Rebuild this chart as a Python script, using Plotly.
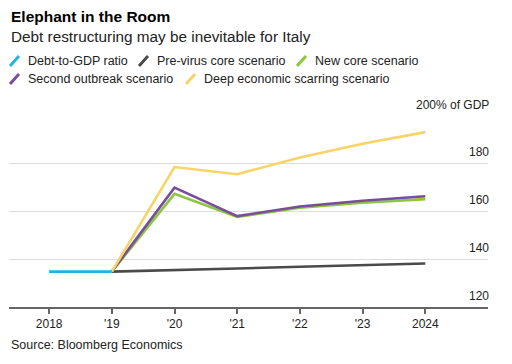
import plotly.graph_objects as go

years = [2018, 2019, 2020, 2021, 2022, 2023, 2024]
x_ticktext = ["2018", "'19", "'20", "'21", "'22", "'23", "2024"]

debt_years = [2018, 2019]
debt_ratio = [134.8, 134.8]

scen_years = [2019, 2020, 2021, 2022, 2023, 2024]
pre_virus = [134.8, 135.6, 136.1, 136.8, 137.6, 138.2]
new_core = [134.8, 167.3, 157.6, 161.5, 163.6, 165.1]
second_outbreak = [134.8, 169.9, 158.0, 162.0, 164.4, 166.3]
deep_scarring = [134.8, 178.5, 175.5, 182.5, 188.2, 193.1]

y_tickvals = [120, 140, 160, 180, 200]
y_ticktext = ["120", "140", "160", "180", "200% of GDP"]

names = ["Debt-to-GDP ratio", "Pre-virus core scenario", "New core scenario",
         "Second outbreak scenario", "Deep economic scarring scenario"]
colors = ["#22b5dc", "#4a4a4a", "#8cc63f", "#7a4c9c", "#f7d465"]

# page body adds an 8px offset; design in window pixels and subtract it
OFF = 8
W, H = 512 - OFF, 364 - OFF
ML, MR, MT, MB = 9 - OFF, 24, 115 - OFF, 57
PW, PH = W - ML - MR, H - MT - MB

def px(x):
    return (x - OFF - ML) / PW

def py(y):
    return (H - MB - (y - OFF)) / PH

fig = go.Figure()
fig.add_trace(go.Scatter(x=scen_years, y=pre_virus, mode="lines", line=dict(color=colors[1], width=2.6), name=names[1]))
fig.add_trace(go.Scatter(x=scen_years, y=new_core, mode="lines", line=dict(color=colors[2], width=2.6), name=names[2]))
fig.add_trace(go.Scatter(x=scen_years, y=second_outbreak, mode="lines", line=dict(color=colors[3], width=2.6), name=names[3]))
fig.add_trace(go.Scatter(x=scen_years, y=deep_scarring, mode="lines", line=dict(color=colors[4], width=2.6), name=names[4]))
fig.add_trace(go.Scatter(x=debt_years, y=debt_ratio, mode="lines", line=dict(color=colors[0], width=2.6), name=names[0]))

font = "Liberation Sans, Arial, sans-serif"
annotations = [
    dict(text="<b>Elephant in the Room</b>", x=px(9), y=py(16), xref="paper", yref="paper",
         xanchor="left", yanchor="middle", showarrow=False, font=dict(size=15.5, color="#000", family=font)),
    dict(text="Debt restructuring may be inevitable for Italy", x=px(9), y=py(36), xref="paper", yref="paper",
         xanchor="left", yanchor="middle", showarrow=False, font=dict(size=15.3, color="#222", family=font)),
    dict(text="Source: Bloomberg Economics", x=px(9), y=py(345), xref="paper", yref="paper",
         xanchor="left", yanchor="middle", showarrow=False, font=dict(size=12.5, color="#222", family=font)),
]
for v, t in zip(y_tickvals, y_ticktext):
    annotations.append(dict(text=t, x=px(491), y=v, xref="paper", yref="y", xanchor="right",
                            yanchor="bottom", yshift=2, showarrow=False,
                            font=dict(size=12, color="#222", family=font)))
shapes = []
legend_items = [(0, 10, 61), (1, 139, 61), (2, 297, 61), (3, 10, 79), (4, 186, 79)]
for idx, lx, ly in legend_items:
    shapes.append(dict(type="line", xref="paper", yref="paper",
                       x0=px(lx), y0=py(ly + 5), x1=px(lx + 9), y1=py(ly - 5),
                       line=dict(color=colors[idx], width=3)))
    annotations.append(dict(text=names[idx], x=px(lx + 16), y=py(ly), xref="paper", yref="paper",
                            xanchor="left", yanchor="middle", showarrow=False,
                            font=dict(size=12.5, color="#222", family=font)))

fig.update_layout(
    width=W, height=H, margin=dict(l=ML, r=MR, t=MT, b=MB),
    paper_bgcolor="white", plot_bgcolor="white", showlegend=False,
    font=dict(family=font, color="#222"),
    annotations=annotations, shapes=shapes,
    xaxis=dict(range=[2017.36, 2025.0], tickvals=years, ticktext=x_ticktext, automargin=False,
               showgrid=False, zeroline=False, showline=True, linecolor="#666", linewidth=1.5,
               ticks="outside", ticklen=5, tickcolor="#666", tickwidth=1.5,
               tickfont=dict(size=12, color="#222", family=font)),
    yaxis=dict(range=[120, 200.25], tickvals=y_tickvals, showticklabels=False, automargin=False,
               showgrid=True, gridcolor="#dcdcdc", gridwidth=1,
               zeroline=False, showline=False, ticks=""),
)

fig.write_html("out.html")
